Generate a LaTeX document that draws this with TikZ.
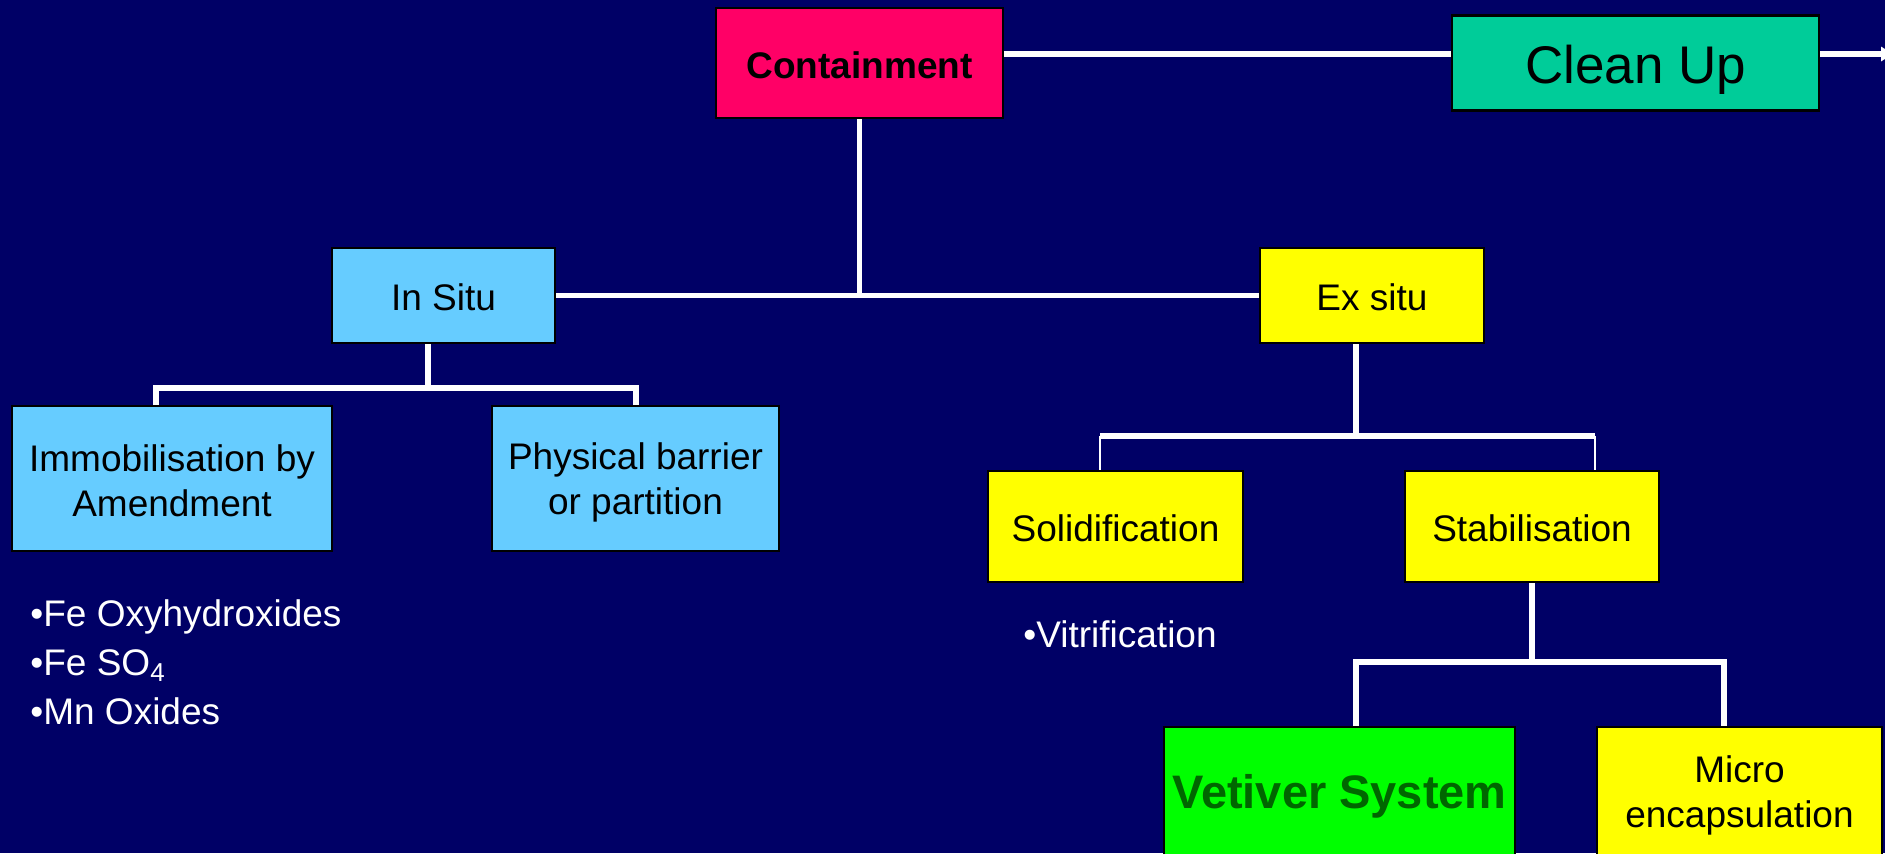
\documentclass[tikz,border=0pt]{standalone}
\usepackage{fontspec}
\setmainfont{Liberation Sans}
\usetikzlibrary{arrows.meta}
\definecolor{bg}{RGB}{0,0,102}
\definecolor{pinkc}{RGB}{255,0,102}
\definecolor{tealc}{RGB}{0,204,153}
\definecolor{bluec}{RGB}{102,204,255}
\definecolor{yellowc}{RGB}{255,255,0}
\definecolor{greenc}{RGB}{0,255,0}
\definecolor{dgreen}{RGB}{0,102,0}
\begin{document}
\begin{tikzpicture}[x=0.5pt,y=-0.5pt,
  box/.style={draw=black,line width=1.2pt,inner sep=0pt,align=center,text=black,
    font=\fontsize{18.5}{22.5}\selectfont},
  oneline/.style={text height=15pt,text depth=0pt},
  conn/.style={draw=white,line width=2.8pt},
  tickline/.style={draw=white,line width=1.2pt},
  note/.style={text=white,align=left,inner sep=0pt,font=\fontsize{18.5}{24.4}\selectfont}]
\fill[bg] (0,0) rectangle (1885,853);
\useasboundingbox (0,0) rectangle (1885,853);
\clip (0,0) rectangle (1885,853);

% nodes
\node[box,oneline,fill=pinkc,minimum width=143.5pt,minimum height=55pt,font=\bfseries\fontsize{18.5}{21}\selectfont] (contain) at (859.5,63) {Containment};
\node[box,oneline,fill=tealc,minimum width=183.5pt,minimum height=47.5pt,text height=20.5pt,font=\fontsize{26.5}{30}\selectfont] (cleanup) at (1635.5,63) {Clean Up};
\node[box,oneline,fill=bluec,minimum width=111.5pt,minimum height=47.5pt] (insitu) at (443.5,295.5) {In Situ};
\node[box,oneline,fill=yellowc,minimum width=112pt,minimum height=47.5pt] (exsitu) at (1372,295.5) {Ex situ};
\node[box,fill=bluec,minimum width=160pt,minimum height=72.5pt] (immob) at (172,478.5) {\rule{0pt}{15.3pt}Immobilisation by\\Amendment};
\node[box,fill=bluec,minimum width=143.5pt,minimum height=72.5pt] (physical) at (635.5,478.5) {\rule{0pt}{17.7pt}Physical barrier\\or partition};
\node[box,oneline,fill=yellowc,minimum width=127.5pt,minimum height=55.5pt] (solid) at (1115.5,526.5) {Solidification};
\node[box,oneline,fill=yellowc,minimum width=127pt,minimum height=55.5pt] (stab) at (1532,526.5) {Stabilisation};
\node[box,oneline,fill=greenc,minimum width=175.5pt,minimum height=65pt,text=dgreen,text height=16.8pt,font=\bfseries\fontsize{23.5}{27}\selectfont] (vetiver) at (1339.5,792) {Vetiver System};
\node[box,fill=yellowc,minimum width=142.5pt,minimum height=65pt] (micro) at (1739.5,792) {\rule{0pt}{16.9pt}Micro\\encapsulation};

\node[note,anchor=west] (bullets) at (30,662) {•Fe Oxyhydroxides\\•Fe SO\textsubscript{4}\\•Mn Oxides};
\node[note,anchor=west] (vit) at (1023,634) {•Vitrification};

% connectors
\coordinate (arrowend) at (1893,54);
\draw[conn] ([yshift=4.5pt]contain.east) -- ([yshift=4.5pt]cleanup.west);
\draw[conn,-{Triangle[length=6pt,width=7pt]}] ([yshift=4.5pt]cleanup.east) -- (arrowend);
\draw[conn] (contain.south) -- (contain.south |- insitu.east);
\draw[conn] (insitu.east) -- (exsitu.west);

\coordinate (b1L) at (156,388);
\coordinate (b1M) at (428,388);
\coordinate (b1R) at (636,388);
\draw[conn] (b1M |- insitu.south) -- (b1M);
\draw[conn] (b1L |- immob.north) -- (b1L) -- (b1R) -- (b1R |- physical.north);

\coordinate (b2L) at (1100,436);
\coordinate (b2M) at (1356,436);
\coordinate (b2R) at (1595,436);
\draw[conn] (b2M |- exsitu.south) -- (b2M);
\draw[conn] (b2L) -- (b2R);
\draw[tickline] (b2L) -- (b2L |- solid.north);
\draw[tickline] (b2R) -- (b2R |- stab.north);

\coordinate (b3L) at (1356,662);
\coordinate (b3M) at (1532,662);
\coordinate (b3R) at (1724,662);
\draw[conn] (stab.south) -- (b3M);
\draw[conn] (b3L |- vetiver.north) -- (b3L) -- (b3R) -- (b3R |- micro.north);
\end{tikzpicture}
\end{document}
